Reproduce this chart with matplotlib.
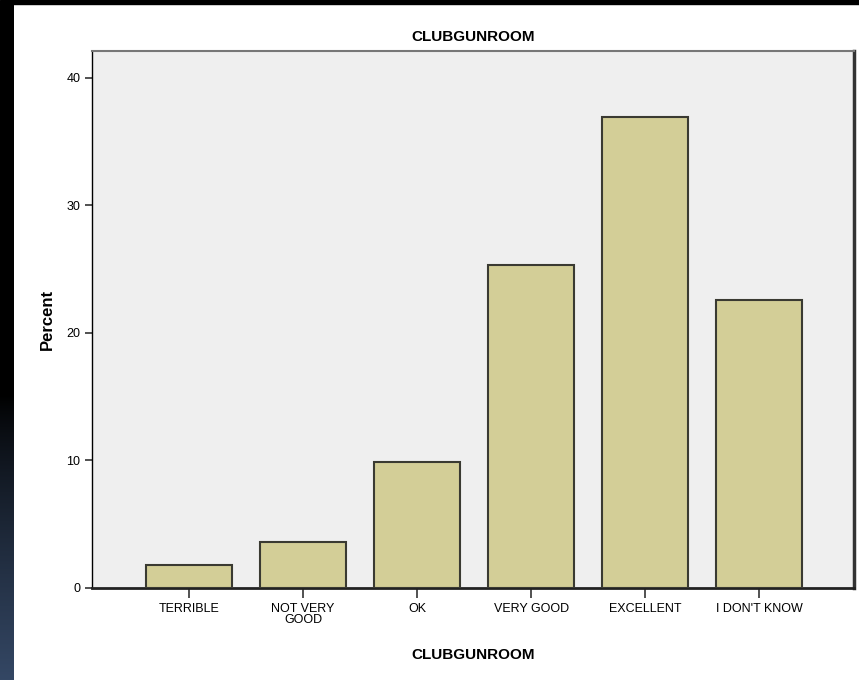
import matplotlib
matplotlib.use("Agg")
import matplotlib.pyplot as plt
import numpy as np
from matplotlib.patches import Rectangle

plt.rcParams['font.family'] = ['Liberation Sans', 'DejaVu Sans']

categories = ['TERRIBLE', 'NOT VERY\nGOOD', 'OK', 'VERY GOOD', 'EXCELLENT', "I DON'T KNOW"]
percent = [1.8, 3.6, 9.9, 25.3, 36.9, 22.6]
yticks = [0, 10, 20, 30, 40]

fig = plt.figure(figsize=(8.59, 6.80), dpi=100)
fig.patch.set_facecolor('white')

# black screenshot border (top and left) with bluish gradient at bottom-left
fig.patches.append(Rectangle((0, 1 - 4/680), 1, 4/680, transform=fig.transFigure,
                             color='black', zorder=-1))
grad_ax = fig.add_axes([0, 0, 14/859, 1 - 4/680])
t = np.linspace(0, 1, 256)
w = np.clip((0.42 - t) / 0.42, 0, 1) ** 0.8
base = np.array([0x34, 0x47, 0x64]) / 255
cols = w[:, None, None] * base[None, None, :]
grad_ax.imshow(cols, aspect='auto', origin='lower', extent=[0, 1, 0, 1])
grad_ax.set_axis_off()

ax = fig.add_axes([92/859, 1 - 588/680, (854 - 92)/859, (588 - 51)/680])
ax.set_facecolor('#efefef')
x = np.arange(len(categories))
ax.bar(x, percent, width=0.755, color='#d3ce97', edgecolor='#3a3a32', linewidth=1.5, zorder=3)

ax.set_xlim(-0.85, 5.83)
ax.set_ylim(0, 42.1)
ax.set_yticks(yticks)
ax.set_xticks(x)
ax.set_xticklabels(categories, fontsize=9, linespacing=0.9)
ax.tick_params(axis='y', labelsize=9, length=5, width=1.2, color='#333333')
ax.tick_params(axis='x', length=7, width=1.2, color='#333333')

ax.spines['top'].set_color('#777777')
ax.spines['top'].set_linewidth(1.5)
ax.spines['right'].set_color('#333333')
ax.spines['right'].set_linewidth(2.5)
ax.spines['bottom'].set_color('#222222')
ax.spines['bottom'].set_linewidth(2)
ax.spines['left'].set_color('black')
ax.spines['left'].set_linewidth(1)

ax.set_title('CLUBGUNROOM', fontsize=11, fontweight='bold', pad=7)
ax.set_xlabel('CLUBGUNROOM', fontsize=11, fontweight='bold', labelpad=16)
ax.set_ylabel('Percent', fontsize=12, fontweight='bold', labelpad=8)

fig.savefig('out.png', dpi=100, facecolor='white')
